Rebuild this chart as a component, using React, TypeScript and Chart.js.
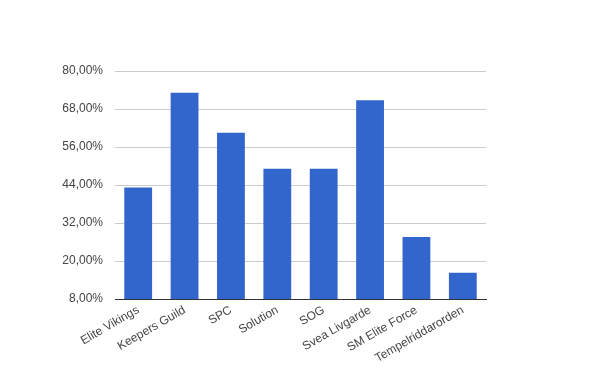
import React, { useEffect, useRef } from "react";
import { Chart, registerables } from "chart.js";

Chart.register(...registerables);

const categories = [
  "Elite Vikings",
  "Keepers Guild",
  "SPC",
  "Solution",
  "SOG",
  "Svea Livgarde",
  "SM Elite Force",
  "Tempelriddarorden",
];
const values = [43.2, 73.1, 60.5, 49.1, 49.1, 70.8, 27.6, 16.3];
const yMin = 8;
const yMax = 80;
const yStep = 12;

export default function App() {
  const ref = useRef<HTMLCanvasElement | null>(null);
  useEffect(() => {
    if (!ref.current) return;
    const font = { family: "'Liberation Sans', Arial, sans-serif", size: 12 };
    const chart = new Chart(ref.current, {
      type: "bar",
      data: {
        labels: categories,
        datasets: [
          {
            data: values,
            backgroundColor: "#3366cc",
            borderWidth: 0,
            barPercentage: 0.6,
            categoryPercentage: 1,
          },
        ],
      },
      options: {
        animation: false,
        responsive: false,
        devicePixelRatio: 1,
        layout: { padding: { top: 71, right: 114, left: 0, bottom: 0 } },
        plugins: { legend: { display: false }, tooltip: { enabled: false } },
        scales: {
          x: {
            grid: { display: false, drawTicks: false },
            border: { display: true, color: "#333333", width: 1 },
            ticks: {
              font,
              color: "#444444",
              minRotation: 30,
              maxRotation: 30,
              padding: 4,
              autoSkip: false,
            },
            afterFit: (s: any) => {
              s.height = 72;
            },
          },
          y: {
            min: yMin,
            max: yMax,
            grid: { color: "#cccccc", drawTicks: false },
            border: { display: false },
            ticks: {
              stepSize: yStep,
              font,
              color: "#444444",
              padding: 12,
              callback: (v: any) => Number(v).toFixed(2).replace(".", ",") + "%",
            },
            afterFit: (s: any) => {
              s.width = 115;
            },
          },
        },
      },
    });
    return () => chart.destroy();
  }, []);
  return (
    <div style={{ position: "fixed", left: 0, top: 0, width: 600, height: 371, background: "#fff" }}>
      <canvas ref={ref} width={600} height={371} style={{ width: 600, height: 371, display: "block" }} />
    </div>
  );
}
